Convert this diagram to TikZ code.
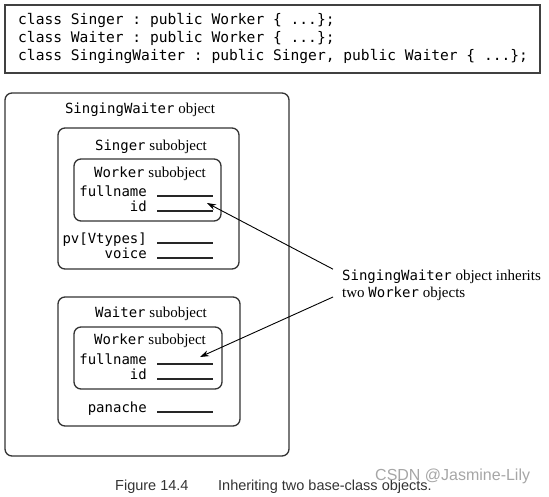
\documentclass[tikz,border=0pt]{standalone}
\usepackage{fontspec}
\setmainfont{Liberation Serif}
\setsansfont{Liberation Sans}
\setmonofont{DejaVu Sans Mono}
\usetikzlibrary{arrows.meta}
\begin{document}
\begin{tikzpicture}[x=1pt,y=-1pt,
  objbox/.style={draw=black!80,line width=1.3pt,rounded corners=7pt},
  blank/.style={draw=black!85,line width=1.3pt},
  field/.style={anchor=base east,inner sep=0pt,font=\fontsize{14}{14}\selectfont\ttfamily},
  title/.style={anchor=base,inner sep=0pt,font=\fontsize{15}{15}\selectfont},
  code/.style={anchor=base west,inner sep=0pt,font=\fontsize{14.6}{14.6}\selectfont\ttfamily},
  pointer/.style={draw,line width=0.9pt,-{Stealth[length=9pt,width=6pt]}}]
  \useasboundingbox (0,0) rectangle (549,496);
  % class declarations
  \draw[line width=2.5pt,color=black!75] (5,5) rectangle (540,73);
  \node[code] (decl1) at (18,24) {class Singer : public Worker \{ ...\};};
  \node[code] (decl2) at (18,42) {class Waiter : public Worker \{ ...\};};
  \node[code] (decl3) at (18,60)
    {class SingingWaiter : public Singer, public Waiter \{ ...\};};
  % object boxes
  \draw[objbox] (5,93) rectangle (289,456);
  \draw[objbox] (58,128) rectangle (239,269);
  \draw[objbox] (74,159) rectangle (221,221);
  \draw[objbox] (58,297) rectangle (240,426);
  \draw[objbox] (74,327) rectangle (222,389);
  \node[title] (swtitle) at (140,113)
    {{\fontsize{14}{14}\selectfont\ttfamily SingingWaiter} object};
  \node[title] (singertitle) at (151,150)
    {{\fontsize{14}{14}\selectfont\ttfamily Singer} subobject};
  \node[title] (worker1title) at (150,177)
    {{\fontsize{14}{14}\selectfont\ttfamily Worker} subobject};
  \node[title] (waitertitle) at (151,317)
    {{\fontsize{14}{14}\selectfont\ttfamily Waiter} subobject};
  \node[title] (worker2title) at (150,344)
    {{\fontsize{14}{14}\selectfont\ttfamily Worker} subobject};
  % data members
  \node[field] (fullname1) at (147,196) {fullname};
  \node[field] (id1) at (147,211) {id};
  \node[field] (pv) at (147,243) {pv[Vtypes]};
  \node[field] (voice) at (147,258) {voice};
  \node[field] (fullname2) at (147,364) {fullname};
  \node[field] (id2) at (147,379) {id};
  \node[field] (panache) at (147,412) {panache};
  \draw[blank] (157,196) -- (213,196);
  \draw[blank] (157,211) -- (213,211);
  \draw[blank] (157,243) -- (213,243);
  \draw[blank] (157,258) -- (213,258);
  \draw[blank] (157,364) -- (213,364);
  \draw[blank] (157,379) -- (213,379);
  \draw[blank] (157,412) -- (213,412);
  % note
  \node[anchor=base west,inner sep=0pt,font=\fontsize{15}{15}\selectfont] (inh1) at (342,280)
    {{\fontsize{14}{14}\selectfont\ttfamily SingingWaiter} object inherits};
  \node[anchor=base west,inner sep=0pt,font=\fontsize{15}{15}\selectfont] (inh2) at (342,297)
    {two {\fontsize{14}{14}\selectfont\ttfamily Worker} objects};
  \coordinate (tip1) at (207,203);
  \coordinate (tip2) at (200,357);
  \draw[pointer] ([xshift=-9pt]inh1.north west) -- (tip1);
  \draw[pointer] ([xshift=-9pt]inh2.base west) -- (tip2);
  % caption
  \node[anchor=base west,inner sep=0pt,font=\fontsize{14.5}{14.5}\selectfont\sffamily,color=black!80]
    (fignum) at (115,490) {Figure 14.4};
  \node[anchor=base west,inner sep=0pt,font=\fontsize{14.5}{14.5}\selectfont\sffamily,color=black!80]
    (figtext) at (218,490) {Inheriting two base-class objects.};
  \node[anchor=base west,inner sep=0pt,font=\fontsize{16}{16}\selectfont\sffamily,color=black!35]
    (mark) at (375,480) {CSDN @Jasmine-Lily};
\end{tikzpicture}
\end{document}
